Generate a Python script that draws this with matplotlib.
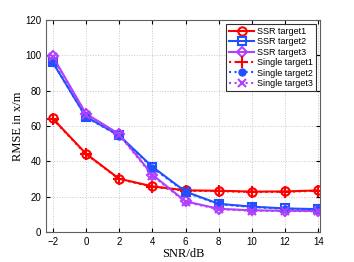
import matplotlib.pyplot as plt

snr = [-2, 0, 2, 4, 6, 8, 10, 12, 14]

ssr_t1 = [64.3, 44.4, 30.2, 25.9, 23.6, 23.4, 22.9, 23.0, 23.6]
ssr_t2 = [96.0, 65.3, 54.7, 37.0, 22.9, 16.0, 14.4, 13.4, 13.0]
ssr_t3 = [99.5, 67.0, 55.5, 32.5, 17.4, 13.2, 12.3, 12.1, 12.0]
single_t1 = [64.0, 44.2, 30.0, 25.7, 23.4, 23.2, 22.7, 22.8, 23.4]
single_t2 = [96.3, 65.0, 54.5, 36.5, 22.6, 15.8, 14.2, 13.2, 12.8]
single_t3 = [99.0, 66.5, 55.0, 32.0, 17.0, 13.0, 12.1, 11.9, 11.8]

labels = ['SSR target1', 'SSR target2', 'SSR target3',
          'Single target1', 'Single target2', 'Single target3']

red = '#ff0000'
blue = '#2050ff'
purple = '#b040ff'

plt.rcParams['font.family'] = ['Liberation Sans', 'DejaVu Sans']

fig = plt.figure(figsize=(3.54, 2.62), dpi=100)
ax = fig.add_axes([0.13, 0.114, 0.774, 0.81])

ax.plot(snr, ssr_t1, '-', color=red, lw=1.5, marker='o', ms=6, mfc='none', mew=1.5, label=labels[0])
ax.plot(snr, ssr_t2, '-', color=blue, lw=1.5, marker='s', ms=6, mfc='none', mew=1.5, label=labels[1])
ax.plot(snr, ssr_t3, '-', color=purple, lw=1.5, marker='D', ms=5, mfc='none', mew=1.5, label=labels[2])
ax.plot(snr, single_t1, ':', color=red, lw=1.5, marker='+', ms=8, mew=1.5, label=labels[3])
ax.plot(snr, single_t2, ':', color=blue, lw=1.5, marker='o', ms=5, mfc=blue, mew=1, label=labels[4])
ax.plot(snr, single_t3, ':', color=purple, lw=1.5, marker='x', ms=6, mew=1.5, label=labels[5])

ax.set_xlim(-2.4, 14.1)
ax.set_ylim(0, 120)
ax.set_xticks(snr)
ax.set_yticks(range(0, 121, 20))
ax.tick_params(direction='in', labelsize=7, length=3, top=True, right=True)
ax.grid(True, linestyle=':', color='#c8c8c8', lw=0.7)
for s in ax.spines.values():
    s.set_color('#606060')

ax.set_xlabel('SNR/dB', family='Liberation Serif', fontsize=9, labelpad=1)
ax.set_ylabel('RMSE in x/m', family='Liberation Serif', fontsize=9, labelpad=1)

leg = ax.legend(loc='upper right', fontsize=6.5, fancybox=False, framealpha=1,
                edgecolor='#303030', borderpad=0.3, labelspacing=0.15,
                handlelength=2.8, handletextpad=0.3, borderaxespad=0.5)
leg.get_frame().set_linewidth(0.8)

plt.savefig('out.png', dpi=100)
